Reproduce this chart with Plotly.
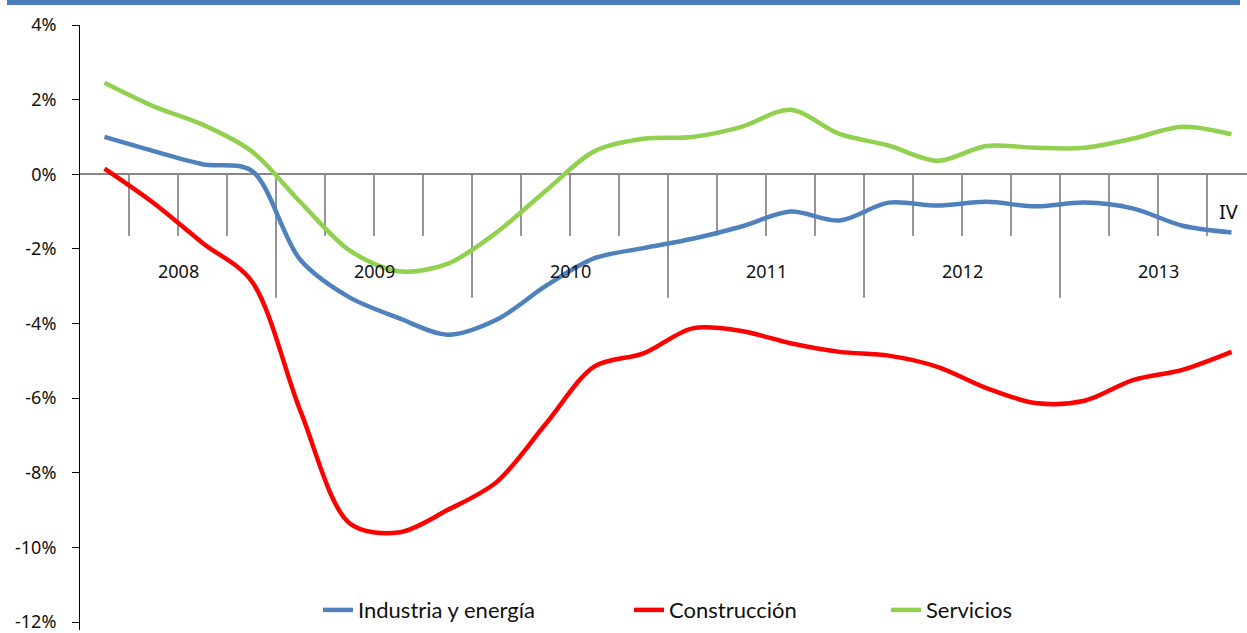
import plotly.graph_objects as go

# --- data: year-on-year change by sector, quarterly 2008 Q1 - 2013 Q4 ---
years = ["2008", "2009", "2010", "2011", "2012", "2013"]
quarters = ["I", "II", "III", "IV"]
labels = [f"{q} {y}" for y in years for q in quarters]

industria = [1.00, 0.62, 0.27, 0.10, -2.30, -3.30, -3.85, -4.30,
             -3.90, -3.00, -2.25, -1.98, -1.73, -1.40, -1.00, -1.24,
             -0.76, -0.84, -0.74, -0.86, -0.76, -0.92, -1.38, -1.56]
construccion = [0.15, -0.77, -1.84, -2.86, -6.35, -9.35, -9.60, -9.00,
                -8.25, -6.70, -5.15, -4.80, -4.13, -4.20, -4.53, -4.76,
                -4.86, -5.16, -5.73, -6.13, -6.07, -5.51, -5.24, -4.76]
servicios = [2.45, 1.82, 1.33, 0.62, -0.75, -2.04, -2.60, -2.40,
             -1.56, -0.45, 0.62, 0.95, 1.00, 1.27, 1.73, 1.08,
             0.77, 0.36, 0.76, 0.71, 0.71, 0.96, 1.27, 1.07]

y_ticks = list(range(-12, 5, 2))
y_tick_text = [f"{v}%" for v in y_ticks]

series = [
    ("Industria y energía", industria, "#4f81bd", "legend", 318),
    ("Construcción", construccion, "#ff0000", "legend2", 629),
    ("Servicios", servicios, "#92d050", "legend3", 886),
]

x = list(range(len(labels)))

fig = go.Figure()
for name, vals, color, leg, _ in series:
    fig.add_trace(go.Scatter(
        x=x, y=vals, name=name, mode="lines", legend=leg,
        line=dict(color=color, width=4.5, shape="spline", smoothing=0.9),
        customdata=labels, hovertemplate="%{customdata}: %{y:.2f}%<extra></extra>",
    ))

# category tick marks hanging from the zero line (longer at year breaks)
shapes = []
for b in range(1, len(labels)):
    depth = -3.31 if b % 4 == 0 else -1.65
    shapes.append(dict(type="line", xref="x", yref="y",
                       x0=b - 0.5, x1=b - 0.5, y0=0, y1=depth,
                       line=dict(color="#2a2a2a", width=1), layer="below"))

# blue band across the top of the page
shapes.append(dict(type="rect", xref="paper", yref="paper",
                   x0=(7 - 80) / 1167, x1=(1240 - 80) / 1167,
                   y0=1 + 20 / 608, y1=1 + 25 / 608,
                   fillcolor="#4a7ebb", line=dict(width=0)))

annotations = []
for i, yr in enumerate(years):
    annotations.append(dict(x=4 * i + 1.5, y=-2.6, xref="x", yref="y",
                            text=yr, showarrow=False,
                            font=dict(size=18, color="#111111")))
annotations.append(dict(x=len(labels) - 1, y=-1.0, xref="x", yref="y",
                        text="IV", showarrow=False, xshift=-3,
                        font=dict(size=20, color="#111111")))

legend_font = dict(family="Lato, sans-serif", size=22, color="#111111")
legends = {}
for _, _, _, leg, px_left in series:
    legends[leg] = dict(orientation="h", x=(px_left - 80) / 1167, xanchor="left",
                        y=(633 - 613) / 608, yanchor="middle",
                        font=legend_font, bgcolor="rgba(0,0,0,0)",
                        itemwidth=30)

fig.update_layout(
    width=1247, height=633,
    margin=dict(l=80, r=0, t=25, b=0),
    paper_bgcolor="white", plot_bgcolor="white",
    font=dict(family="Noto Sans, Open Sans, sans-serif", color="#111111"),
    shapes=shapes, annotations=annotations,
    showlegend=True,
    **legends,
)
fig.update_xaxes(range=[-0.5, -0.5 + 1167 / 49], showticklabels=False,
                 showgrid=False, zeroline=False, showline=False, ticks="")
fig.update_yaxes(range=[-12 - 8 / 37.5, 4], tickmode="array",
                 tickvals=y_ticks, ticktext=y_tick_text, showgrid=False,
                 zeroline=True, zerolinecolor="#868686", zerolinewidth=2,
                 showline=True, linecolor="#000000", linewidth=1,
                 ticks="outside", ticklen=7, tickcolor="#000000",
                 ticklabelstandoff=12, ticklabeloverflow="allow",
                 tickfont=dict(size=18, color="#111111"))

fig.write_html("out.html", config={"displayModeBar": False},
               post_script="document.body.style.margin='0';"
                           "document.body.style.overflow='hidden';")
